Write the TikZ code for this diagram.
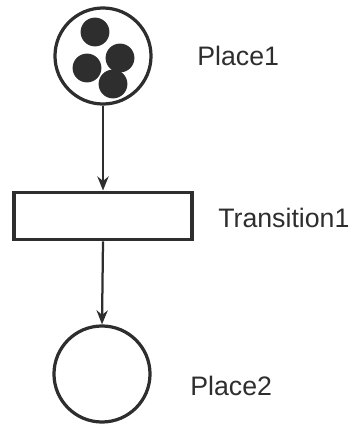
\documentclass[tikz,border=0pt]{standalone}
\usepackage{fontspec}
\setmainfont{Liberation Sans}
\usetikzlibrary{positioning, arrows.meta}

\definecolor{ink}{HTML}{2E2E2E}

\tikzset{
  place/.style={circle, draw=ink, line width=2.3pt, minimum size=2.4cm, inner sep=0pt},
  trans/.style={rectangle, draw=ink, line width=2.8pt, minimum width=4.45cm, minimum height=1.175cm, inner sep=0pt},
  token/.style={circle, fill=ink, minimum size=0.72cm, inner sep=0pt},
  lbl/.style={anchor=west, font=\fontsize{19}{22}\selectfont, text=ink, inner sep=0pt},
  arc/.style={-{Stealth[length=10pt,width=8pt]}, draw=ink, line width=1.6pt}
}

\begin{document}
\begin{tikzpicture}[x=0.025cm, y=-0.025cm]
                \useasboundingbox (0,0) rectangle (351,426);

                % places and transition
                \node[place] (p1) at (103,56) {};
                \node[trans] (t1) at (103,216) {};
                \node[place] (p2) at (102,374) {};

                % tokens in Place1
                \node[token] (k1) at (95,32) {};
                \node[token] (k2) at (87,68) {};
                \node[token] (k3) at (120,58) {};
                \node[token] (k4) at (113,84) {};

                % labels
                \node[lbl] (l1) at (197,56) {Place1};
                \node[lbl] (l2) at (218,218) {Transition1};
                \node[lbl] (l3) at (190,386) {Place2};

                % arcs
                \draw[arc] (p1.south) -- (t1.north);
                \draw[arc] (t1.south) -- (p2.north);
\end{tikzpicture}
\end{document}
